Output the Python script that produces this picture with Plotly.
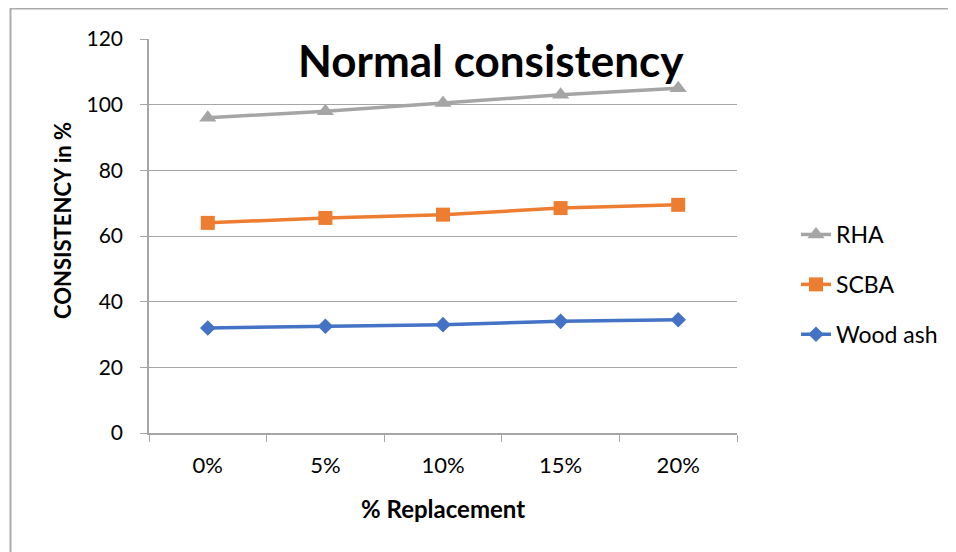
import plotly.graph_objects as go

categories = ["0%", "5%", "10%", "15%", "20%"]
rha = [96, 98, 100.5, 103, 105]
scba = [64, 65.5, 66.5, 68.5, 69.5]
wood_ash = [32, 32.5, 33, 34, 34.5]

# target page coordinates of the plot area (page has an 8px body margin)
OFF = 8
L, R, T, B = 149, 737, 39, 433
W, H = 956, 552
pw, ph = R - L, B - T

def px(x):
    return (x - L) / pw

def py(y):
    return (B - y) / ph

FONT = "Lato, Carlito, Calibri, sans-serif"
fig = go.Figure()
series = [
    ("RHA", rha, "#A5A5A5", "triangle-up", 15),
    ("SCBA", scba, "#ED7D31", "square", 14),
    ("Wood ash", wood_ash, "#4472C4", "diamond", 12),
]
for name, vals, col, sym, sz in series:
    fig.add_trace(go.Scatter(
        x=categories, y=vals, name=name, mode="lines+markers",
        line=dict(color=col, width=3.5),
        marker=dict(symbol=sym, size=sz, color=col),
        legendgroup=name,
    ))

fig.update_layout(
    width=W - OFF, height=H - OFF,
    margin=dict(l=L - OFF, r=W - R, t=T - OFF, b=H - B, pad=0),
    paper_bgcolor="white", plot_bgcolor="white",
    font=dict(family=FONT, size=20, color="#000000"),
    showlegend=True,
    legend=dict(x=px(796), y=py(213), xanchor="left", yanchor="top",
                font=dict(size=23, family=FONT), tracegroupgap=17,
                bgcolor="rgba(0,0,0,0)"),
    xaxis=dict(
        type="category", range=[-0.5, 4.5], tickson="boundaries",
        ticks="outside", ticklen=7, tickcolor="#A6A6A6", tickwidth=1,
        showline=True, linecolor="#A6A6A6", linewidth=1.5,
        showgrid=False, zeroline=False, ticklabelstandoff=12,
        tickfont=dict(size=22, family=FONT),
    ),
    yaxis=dict(
        range=[0, 120], dtick=20, ticks="outside", ticklen=7,
        tickcolor="#A6A6A6", tickwidth=1,
        showline=True, linecolor="#A6A6A6", linewidth=1.5,
        showgrid=True, gridcolor="#A6A6A6", gridwidth=1.2, zeroline=False,
        ticklabelstandoff=13,
        tickfont=dict(size=21, family=FONT),
    ),
)

fig.add_annotation(
    text="<b>Normal consistency</b>", xref="paper", yref="paper",
    x=px(491), y=py(60), xanchor="center", yanchor="middle",
    showarrow=False, font=dict(size=44, family=FONT, color="#000000"),
)
fig.add_annotation(
    text="<b>% Replacement</b>", xref="paper", yref="paper",
    x=px(443), y=py(509), xanchor="center", yanchor="middle",
    showarrow=False, font=dict(size=24, family=FONT, color="#000000"),
)
fig.add_annotation(
    text="<b>CONSISTENCY in %</b>", xref="paper", yref="paper",
    x=px(62), y=py(221), xanchor="center", yanchor="middle", textangle=-90,
    showarrow=False, font=dict(size=22, family=FONT, color="#000000"),
)

fig.add_shape(type="rect", xref="paper", yref="paper",
              x0=px(10.5), x1=px(975), y0=py(8.5), y1=py(575),
              line=dict(color="#ABABAB", width=2), layer="below")

fig.write_html("out.html")
